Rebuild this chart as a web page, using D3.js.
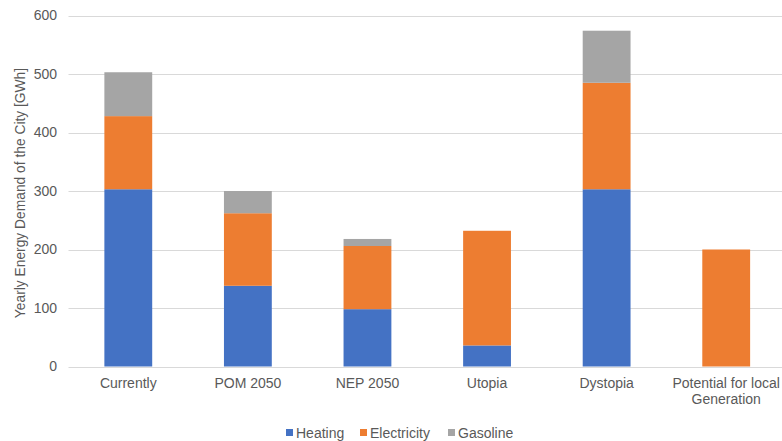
<!DOCTYPE html>
<html><head><meta charset="utf-8">
<script src="https://cdn.jsdelivr.net/npm/d3@7"></script>
<style>body{margin:0;background:#fff}svg{display:block}text{font-family:"Liberation Sans",Arial,sans-serif}</style>
</head><body><svg id="c" width="782" height="441"></svg>
<script>
const categories = ["Currently","POM 2050","NEP 2050","Utopia","Dystopia","Potential for local\nGeneration"];
const seriesNames = ["Heating","Electricity","Gasoline"];
const heating = [303, 138, 98, 36, 303, 0];
const electricity = [125, 124, 108, 196, 182, 200];
const gasoline = [75, 38, 12, 0, 89, 0];
const yTicks = [0,100,200,300,400,500,600];
const colors = ["#4472C4","#ED7D31","#A5A5A5"];

const svg = d3.select("#c");
const x = d3.scaleBand().domain(categories).range([68.5, 786]).paddingInner(0.6).paddingOuter(0.3);
const y = d3.scaleLinear().domain([0,600]).range([366.5, 15.5]);

// gridlines
svg.append("g").selectAll("line").data(yTicks).join("line")
  .attr("x1",68.5).attr("x2",782).attr("y1",d=>Math.round(y(d))+0.5).attr("y2",d=>Math.round(y(d))+0.5)
  .attr("stroke","#d9d9d9").attr("stroke-width",1);

// y axis labels
const ya = svg.append("g").attr("transform","translate(57,0)").call(d3.axisLeft(y).tickValues(yTicks).tickSize(0).tickPadding(0));
ya.select(".domain").remove();
ya.selectAll("text").attr("fill","#595959").style("font-size","14px").style("font-family","'Liberation Sans',Arial,sans-serif");

const rows = categories.map((c,i)=>({cat:c,Heating:heating[i],Electricity:electricity[i],Gasoline:gasoline[i]}));
const stacked = d3.stack().keys(seriesNames)(rows);
svg.append("g").selectAll("g").data(stacked).join("g").attr("fill",(d,i)=>colors[i])
  .selectAll("rect").data(d=>d).join("rect")
  .attr("x",d=>x(d.data.cat)).attr("width",x.bandwidth())
  .attr("y",d=>y(d[1])).attr("height",d=>y(d[0])-y(d[1]));

// x labels
const xl = svg.append("g").selectAll("text").data(categories).join("text")
  .attr("x",d=>x(d)+x.bandwidth()/2).attr("y",388).attr("text-anchor","middle")
  .attr("fill","#595959").style("font-size","14px");
xl.each(function(d){
  const lines=d.split("\n");
  d3.select(this).selectAll("tspan").data(lines).join("tspan")
    .attr("x",x(d)+x.bandwidth()/2).attr("dy",(l,i)=>i?16:0).text(l=>l);
});

// y title
svg.append("text").attr("transform","translate(24.5,193) rotate(-90)").attr("text-anchor","middle")
  .attr("fill","#595959").style("font-size","13.8px").text("Yearly Energy Demand of the City [GWh]");

// legend
const legX = [286, 360, 448];
const lg = svg.append("g").selectAll("g").data(seriesNames).join("g")
  .attr("transform",(d,i)=>`translate(${legX[i]},433)`);
lg.append("rect").attr("x",0).attr("y",-4).attr("width",7).attr("height",7).attr("fill",(d,i)=>colors[i]);
lg.append("text").attr("x",10).attr("y",5).attr("fill","#595959").style("font-size","14px").text(d=>d);
</script></body></html>
